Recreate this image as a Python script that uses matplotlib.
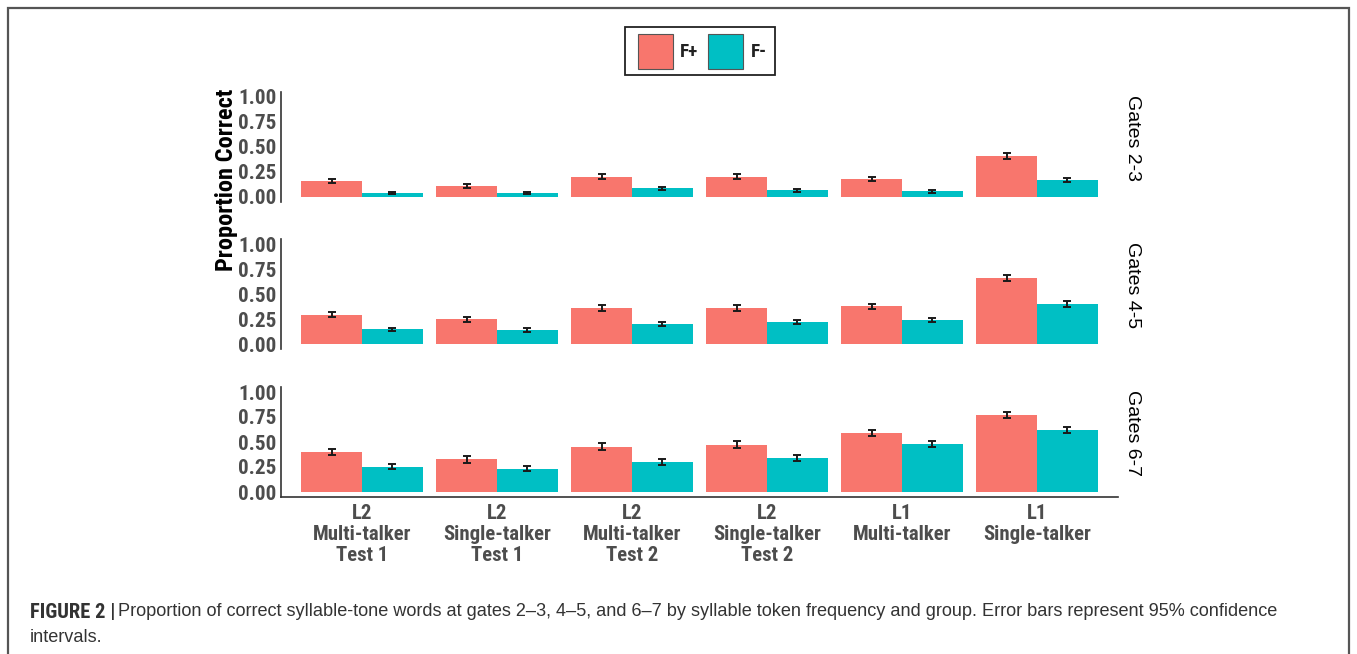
import matplotlib
matplotlib.use("Agg")
import matplotlib.pyplot as plt
from matplotlib.patches import Rectangle
from matplotlib import font_manager
import numpy as np

# ---- data ----
groups = ["L2\nMulti-talker\nTest 1", "L2\nSingle-talker\nTest 1",
          "L2\nMulti-talker\nTest 2", "L2\nSingle-talker\nTest 2",
          "L1\nMulti-talker", "L1\nSingle-talker"]
gates = ["Gates 2-3", "Gates 4-5", "Gates 6-7"]
series = ["F+", "F-"]

fplus_23 = [0.16, 0.11, 0.20, 0.20, 0.175, 0.41]
fminus_23 = [0.035, 0.035, 0.086, 0.066, 0.056, 0.165]
fplus_45 = [0.293, 0.248, 0.366, 0.366, 0.38, 0.663]
fminus_45 = [0.149, 0.142, 0.20, 0.22, 0.24, 0.40]
fplus_67 = [0.40, 0.327, 0.455, 0.472, 0.587, 0.77]
fminus_67 = [0.254, 0.235, 0.30, 0.343, 0.478, 0.617]

fplus_23_ci = [0.022, 0.02, 0.025, 0.025, 0.02, 0.03]
fminus_23_ci = [0.01, 0.01, 0.013, 0.013, 0.012, 0.02]
fplus_45_ci = [0.025, 0.028, 0.03, 0.03, 0.025, 0.028]
fminus_45_ci = [0.018, 0.02, 0.022, 0.022, 0.022, 0.028]
fplus_67_ci = [0.03, 0.032, 0.032, 0.035, 0.03, 0.028]
fminus_67_ci = [0.025, 0.028, 0.028, 0.032, 0.028, 0.03]

yticks = [0.0, 0.25, 0.5, 0.75, 1.0]
ytick_labels = ["0.00", "0.25", "0.50", "0.75", "1.00"]

caption_bold = "FIGURE 2 | "
caption_line1 = ("Proportion of correct syllable-tone words at gates 2\u20133, 4\u20135, and 6\u20137 "
                 "by syllable token frequency and group. Error bars represent 95% confidence")
caption_line2 = "intervals."

# ---- style ----
RED = "#F8766D"
TEAL = "#00BFC4"
TICK_GRAY = "#4D4D4D"

installed = {f.name for f in font_manager.fontManager.ttflist}
narrow_name = next((n for n in ["Liberation Sans Narrow", "Roboto Condensed",
                                "Open Sans Condensed"] if n in installed), None)
if narrow_name:
    BOLD_FONT = [narrow_name, "DejaVu Sans"]
    size_scale = 1.15
else:
    BOLD_FONT = ["Liberation Sans", "DejaVu Sans"]
    size_scale = 1.0
plt.rcParams["font.family"] = ["Liberation Sans", "DejaVu Sans"]

W, H = 1357, 654
fig = plt.figure(figsize=(W / 100, H / 100), dpi=100)
fig.patch.set_facecolor("white")


def px_axes(x0, y0, x1, y1):
    """Axes placed by pixel box (y measured from the top)."""
    return fig.add_axes([x0 / W, 1 - y1 / H, (x1 - x0) / W, (y1 - y0) / H])


panels = [
    (gates[0], fplus_23, fminus_23, fplus_23_ci, fminus_23_ci, 91.7, 202.0),
    (gates[1], fplus_45, fminus_45, fplus_45_ci, fminus_45_ci, 239.0, 349.3),
    (gates[2], fplus_67, fminus_67, fplus_67_ci, fminus_67_ci, 387.0, 497.0),
]

x = np.arange(len(groups))
bw = 0.45
for i, (gname, fp, fm, fpe, fme, top, bot) in enumerate(panels):
    ax = px_axes(281, top, 1118, bot)
    ax.bar(x - bw / 2, fp, width=bw, color=RED, edgecolor="none", zorder=2)
    ax.bar(x + bw / 2, fm, width=bw, color=TEAL, edgecolor="none", zorder=2)
    ax.errorbar(x - bw / 2, fp, yerr=fpe, fmt="none", ecolor="#1a1a1a",
                elinewidth=1.4, capsize=3.2, capthick=1.4, zorder=3)
    ax.errorbar(x + bw / 2, fm, yerr=fme, fmt="none", ecolor="#1a1a1a",
                elinewidth=1.4, capsize=3.2, capthick=1.4, zorder=3)
    ax.set_xlim(-0.6, len(groups) - 0.4)
    ax.set_ylim(-0.05, 1.05)
    ax.set_yticks(yticks)
    ax.set_yticklabels(ytick_labels, family=BOLD_FONT, fontweight="bold",
                       fontsize=13.2 * size_scale, color=TICK_GRAY)
    ax.tick_params(axis="y", length=0, pad=3)
    for s in ["top", "right"]:
        ax.spines[s].set_visible(False)
    ax.spines["left"].set_color("#333333")
    ax.spines["left"].set_linewidth(1.2)
    if i < 2:
        ax.spines["bottom"].set_visible(False)
        ax.set_xticks([])
    else:
        ax.spines["bottom"].set_color("#333333")
        ax.spines["bottom"].set_linewidth(1.2)
        ax.set_xticks(x)
        ax.set_xticklabels(groups, family=BOLD_FONT, fontweight="bold",
                           fontsize=13 * size_scale, color=TICK_GRAY,
                           linespacing=1.12)
        ax.tick_params(axis="x", length=0, pad=5)
    ax.text(1.0 + 15 / 837, 0.5 + 9 / 110, gname, transform=ax.transAxes,
            rotation=-90, ha="center", va="center", fontsize=14, color="black")

# overlay in pixel coordinates for frame, legend, labels and caption
ov = fig.add_axes([0, 0, 1, 1], facecolor="none")
ov.set_xlim(0, W)
ov.set_ylim(H, 0)
ov.axis("off")

ov.plot([8, 8, 1349, 1349], [H + 5, 8, 8, H + 5], color="#555555", lw=1.6,
        solid_joinstyle="miter")

ov.text(226, 180, "Proportion Correct", rotation=90, ha="center", va="center",
        family=BOLD_FONT, fontweight="bold", fontsize=15.3 * size_scale,
        color="black")

# legend
ov.add_patch(Rectangle((625, 27), 150, 48, facecolor="white",
                       edgecolor="#222222", lw=1.3))
ov.add_patch(Rectangle((638, 34), 35, 35, facecolor=RED, edgecolor="#555555", lw=0.8))
ov.add_patch(Rectangle((708, 34), 35, 35, facecolor=TEAL, edgecolor="#555555", lw=0.8))
ov.text(680, 52, series[0], ha="left", va="center", family=BOLD_FONT,
        fontweight="bold", fontsize=12 * size_scale, color="#222222")
ov.text(751, 52, series[1], ha="left", va="center", family=BOLD_FONT,
        fontweight="bold", fontsize=12 * size_scale, color="#222222")

# caption
t0 = ov.text(30, 612, caption_bold, ha="left", va="center", family=BOLD_FONT,
             fontweight="bold", fontsize=12.8 * size_scale, color="#333333")
fig.canvas.draw()
bb = t0.get_window_extent(renderer=fig.canvas.get_renderer())
ov.text(bb.x1 - 2, 612, caption_line1, ha="left", va="center", fontsize=13.1,
        color="#333333")
ov.text(30, 638, caption_line2, ha="left", va="center", fontsize=13.1,
        color="#333333")

fig.savefig("out.png", dpi=100, facecolor="white")
